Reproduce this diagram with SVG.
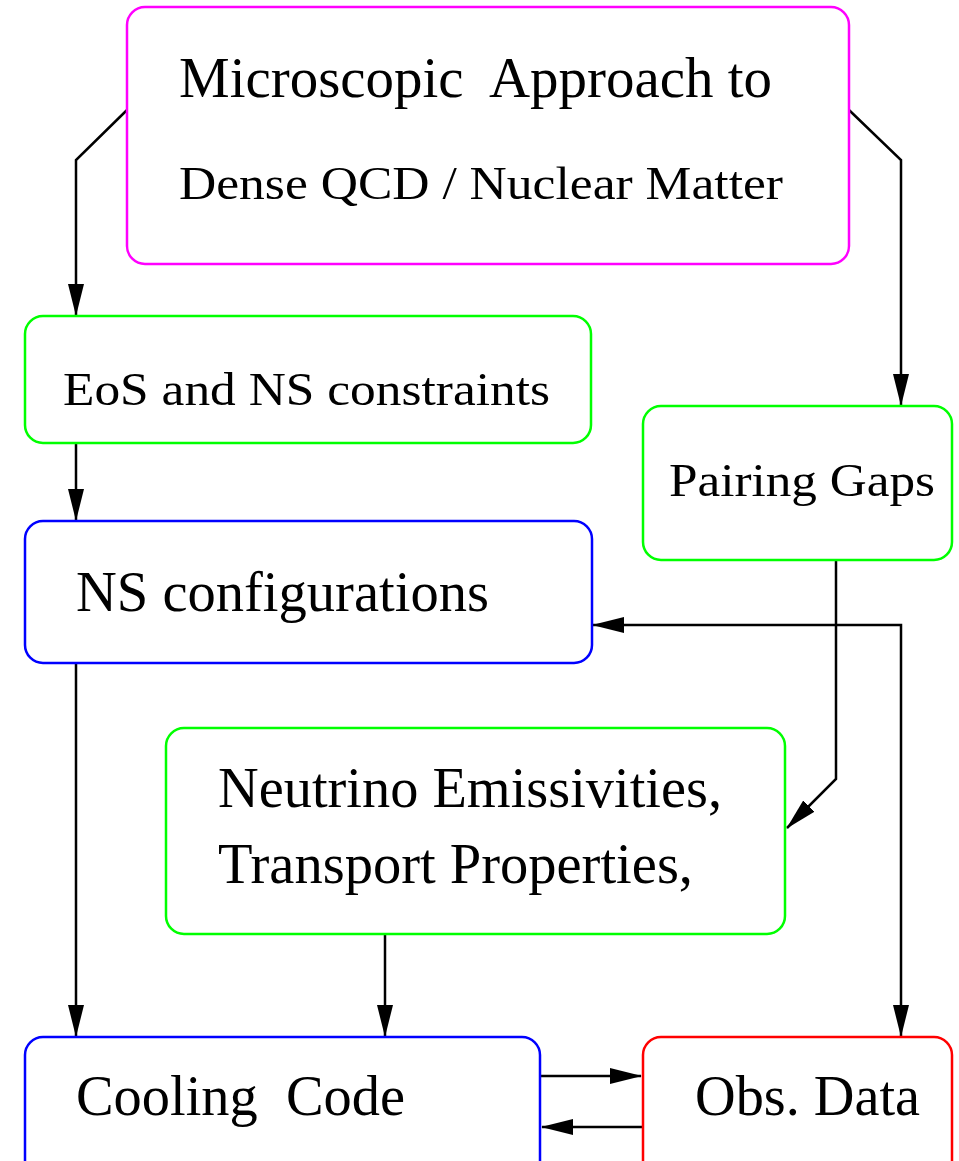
<svg xmlns="http://www.w3.org/2000/svg" width="959" height="1161" viewBox="0 0 959 1161">
<defs>
<marker id="ah" markerWidth="32" markerHeight="16" refX="31" refY="8" orient="auto" markerUnits="userSpaceOnUse">
<path d="M0,0 L32,8 L0,16 Z" fill="#000"/>
</marker>
<marker id="ahs" markerWidth="32" markerHeight="16" refX="1" refY="8" orient="auto" markerUnits="userSpaceOnUse">
<path d="M32,0 L0,8 L32,16 Z" fill="#000"/>
</marker>
</defs>
<style>
.box{fill:#fff;stroke-width:2.5}
.t{font-family:"Liberation Serif",serif;fill:#000;white-space:pre}
.c{fill:none;stroke:#000;stroke-width:2.5}
</style>
<rect width="959" height="1161" fill="#fff"/>
<g id="connectors">
<path class="c" d="M127,110 L76,160 L76,315" marker-end="url(#ah)"/>
<path class="c" d="M849,110 L901,160 L901,405" marker-end="url(#ah)"/>
<path class="c" d="M76,443 L76,520" marker-end="url(#ah)"/>
<path class="c" d="M836,560 L836,779 L787,828" marker-end="url(#ah)"/>
<path class="c" d="M593,625 L901,625 L901,1036" marker-start="url(#ahs)" marker-end="url(#ah)"/>
<path class="c" d="M76,663 L76,1036" marker-end="url(#ah)"/>
<path class="c" d="M385,934 L385,1036" marker-end="url(#ah)"/>
<path class="c" d="M540,1076 L641,1076" marker-end="url(#ah)"/>
<path class="c" d="M643,1127 L542,1127" marker-end="url(#ah)"/>
</g>
<g id="microscopic">
<rect class="box" x="127" y="7" width="722" height="257" rx="18" stroke="#ff00ff"/>
<text class="t" x="179" y="97" font-size="58" textLength="593" lengthAdjust="spacingAndGlyphs" xml:space="preserve">Microscopic  Approach to</text>
<text class="t" x="179" y="199" font-size="47" textLength="604" lengthAdjust="spacingAndGlyphs">Dense QCD / Nuclear Matter</text>
</g>
<g id="eos">
<rect class="box" x="25" y="316" width="566" height="127" rx="18" stroke="#00ff00"/>
<text class="t" x="63" y="405" font-size="47" textLength="487" lengthAdjust="spacingAndGlyphs">EoS and NS constraints</text>
</g>
<g id="pairing">
<rect class="box" x="643" y="406" width="309" height="154" rx="18" stroke="#00ff00"/>
<text class="t" x="669" y="496" font-size="47" textLength="266" lengthAdjust="spacingAndGlyphs">Pairing Gaps</text>
</g>
<g id="nsconfig">
<rect class="box" x="25" y="521" width="567" height="142" rx="18" stroke="#0000ff"/>
<text class="t" x="76" y="611" font-size="56" textLength="413" lengthAdjust="spacingAndGlyphs">NS configurations</text>
</g>
<g id="neutrino">
<rect class="box" x="166" y="728" width="619" height="206" rx="18" stroke="#00ff00"/>
<text class="t" x="218" y="807" font-size="56" textLength="504" lengthAdjust="spacingAndGlyphs">Neutrino Emissivities,</text>
<text class="t" x="218" y="883" font-size="56" textLength="475" lengthAdjust="spacingAndGlyphs">Transport Properties,</text>
</g>
<g id="cooling">
<rect class="box" x="25" y="1037" width="515" height="150" rx="18" stroke="#0000ff"/>
<text class="t" x="76" y="1115" font-size="56" textLength="329" lengthAdjust="spacingAndGlyphs" xml:space="preserve">Cooling  Code</text>
</g>
<g id="obsdata">
<rect class="box" x="643" y="1037" width="309" height="150" rx="18" stroke="#ff0000"/>
<text class="t" x="695" y="1115" font-size="56" textLength="225" lengthAdjust="spacingAndGlyphs">Obs. Data</text>
</g>
</svg>
